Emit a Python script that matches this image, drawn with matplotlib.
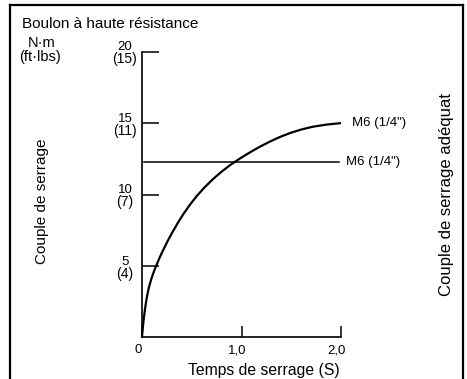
import matplotlib
matplotlib.use("Agg")
import matplotlib.pyplot as plt
from matplotlib.lines import Line2D
from matplotlib.transforms import ScaledTranslation

plt.rcParams['font.family'] = ['Liberation Sans', 'DejaVu Sans']

# Tightening curve: torque (N·m) against tightening time (s)
time_s = [0, 0.006, 0.013, 0.02, 0.03, 0.04, 0.053, 0.065, 0.08, 0.095, 0.11, 0.127,
          0.145, 0.16, 0.18, 0.2, 0.22, 0.26, 0.3, 0.36, 0.415, 0.48, 0.55, 0.63,
          0.717, 0.8, 0.884, 0.94, 1.0, 1.085, 1.18, 1.287, 1.38, 1.49, 1.6, 1.72,
          1.86, 2.0]
torque_nm = [0, 0.51, 1.0, 1.43, 1.97, 2.44, 2.96, 3.36, 3.76, 4.11, 4.42, 4.74,
             5.05, 5.3, 5.62, 5.92, 6.21, 6.77, 7.29, 8.01, 8.62, 9.27, 9.89, 10.51,
             11.1, 11.6, 12.05, 12.32, 12.59, 12.95, 13.33, 13.71, 14.01, 14.31, 14.55, 14.75,
             14.9, 15.0]

# Adequate tightening torque for M6 bolts
adequate_torque = 12.28

y_ticks_nm = [5, 10, 15, 20]
y_ticks_ftlbs = ["(4)", "(7)", "(11)", "(15)"]
x_ticks = [0, 1.0, 2.0]
x_tick_labels = ["0", "1,0", "2,0"]
bolt_label = 'M6 (1/4")'

W, H = 467, 379
fig = plt.figure(figsize=(W / 100, H / 100), dpi=100)
ax = fig.add_axes([142 / W, (H - 337.3) / H, (341 - 142) / W, (337.3 - 51.7) / H])
ax.set_xlim(0, 2.0)
ax.set_ylim(0, 20)

for side in ("top", "right"):
    ax.spines[side].set_visible(False)
for side in ("left", "bottom"):
    ax.spines[side].set_linewidth(1.2)

ax.plot(time_s, torque_nm, color="black", lw=1.6, solid_capstyle="butt",
        solid_joinstyle="round", clip_on=False)
ax.plot([0.02, 1.98], [adequate_torque, adequate_torque], color="black", lw=1.1)

ax.set_yticks(y_ticks_nm)
ax.set_yticklabels([])
ax.tick_params(axis="y", direction="in", length=12, width=1.1)
ax.set_xticks(x_ticks)
ax.set_xticklabels(x_tick_labels, fontsize=9.5)
ax.tick_params(axis="x", direction="in", length=8, width=1.1, pad=5)
shift = ScaledTranslation(-4 / 100, 0, fig.dpi_scale_trans)
for lab in ax.get_xticklabels():
    lab.set_transform(lab.get_transform() + shift)

# Stacked N·m / (ft·lbs) labels beside each y tick
for v, alt in zip(y_ticks_nm, y_ticks_ftlbs):
    ax.annotate(f"{v}", xy=(0, v), xycoords="data", xytext=(-12.2, 0.9),
                textcoords="offset points", ha="center", va="baseline",
                fontsize=9.5, annotation_clip=False)
    ax.annotate(alt, xy=(0, v), xycoords="data", xytext=(-12.6, -5.6),
                textcoords="offset points", ha="center", va="center",
                fontsize=10, annotation_clip=False)

ax.text(2.11, 15.0, bolt_label, ha="left", va="center", fontsize=9.5)
ax.text(2.05, adequate_torque, bolt_label, ha="left", va="center", fontsize=9.5)

fig.text(22 / W, 1 - 28.3 / H, "Boulon à haute résistance", ha="left", va="baseline", fontsize=11)
fig.text(41.7 / W, 1 - 47.2 / H, "N·m", ha="center", va="baseline", fontsize=10.5)
fig.text(39.7 / W, 1 - 56.5 / H, "(ft·lbs)", ha="center", va="center", fontsize=10.5)
fig.text(42 / W, 1 - 201 / H, "Couple de serrage", rotation=90, ha="center", va="center", fontsize=11)
fig.text(447 / W, 1 - 195 / H, "Couple de serrage adéquat", rotation=90, ha="center", va="center", fontsize=12)
fig.text(264 / W, 1 - 370 / H, "Temps de serrage (S)", ha="center", va="center", fontsize=11.3)

# Frame open at the bottom
fx0, fx1, fy1 = 9.5 / W, 463 / W, 1 - 5 / H
for xs, ys in (([fx0, fx0], [-0.02, fy1]), ([fx0, fx1], [fy1, fy1]), ([fx1, fx1], [fy1, -0.02])):
    fig.add_artist(Line2D(xs, ys, color="black", lw=1.6, solid_capstyle="projecting"))

fig.savefig("out.png", dpi=100)
